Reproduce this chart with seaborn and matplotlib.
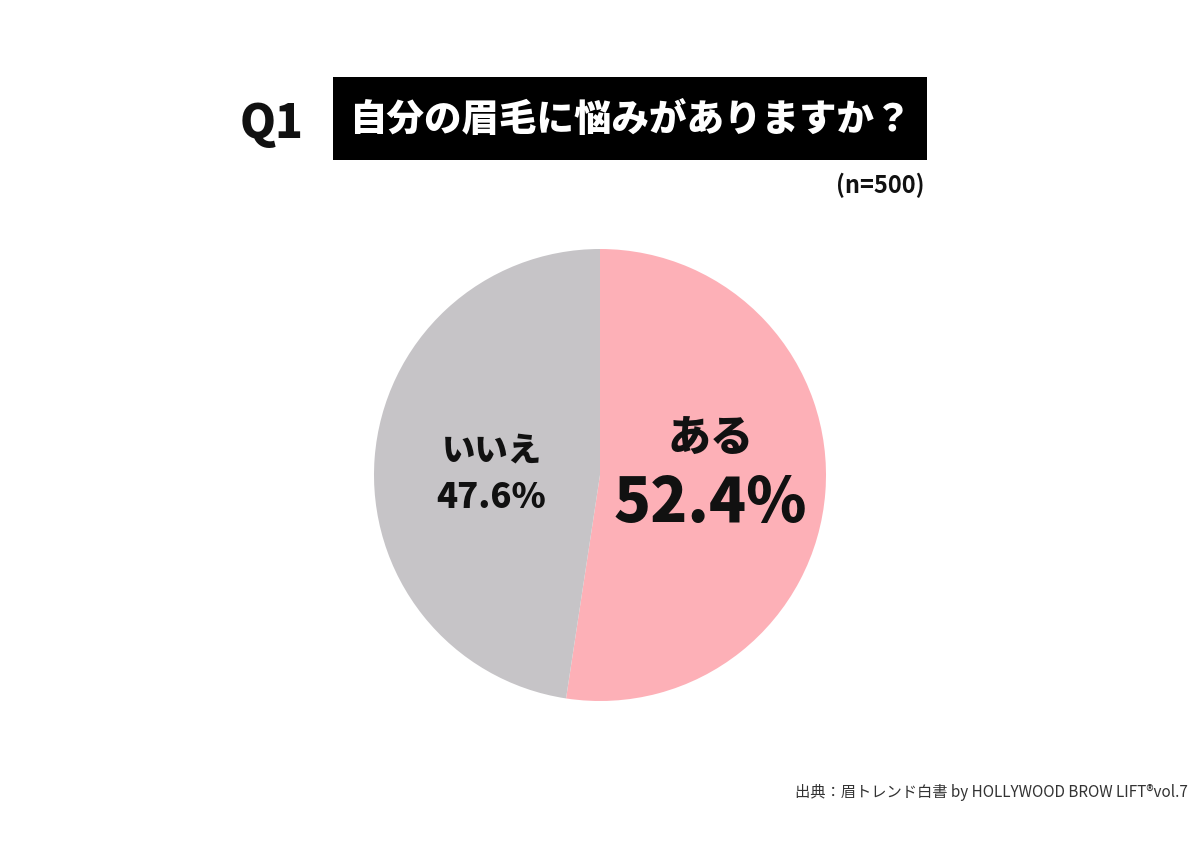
import matplotlib
matplotlib.use("Agg")
import matplotlib.pyplot as plt
import matplotlib.patches as patches
import seaborn as sns

# Data
labels = ["ある", "いいえ"]
values = [52.4, 47.6]
colors = ["#FDB0B7", "#C6C4C7"]
question = "自分の眉毛に悩みがありますか？"
sample = "(n=500)"
source = "出典：眉トレンド白書 by HOLLYWOOD BROW LIFT®vol.7"

sns.set_theme(style="white")
plt.rcParams['font.family'] = ['Noto Sans CJK JP', 'DejaVu Sans']

fig = plt.figure(figsize=(12, 8.48), dpi=100)
fig.patch.set_facecolor("white")

# Pie axes: center (600, 475) px, radius ~226 px
W, H = 1200, 848
cx, cy, r = 600, 475, 226
ax = fig.add_axes([(cx - r) / W, 1 - (cy + r) / H, 2 * r / W, 2 * r / H])
ax.pie(values, colors=colors, startangle=90, counterclock=False,
       radius=1, wedgeprops=dict(linewidth=0))
ax.set_xlim(-1, 1)
ax.set_ylim(-1, 1)
ax.set_aspect("equal")
ax.axis("off")

# Slice labels
ax.text(0.49, 0.16, labels[0], ha="center", va="center", fontsize=31,
        fontweight="black", color="#111111")
ax.text(0.49, -0.13, f"{values[0]}%", ha="center", va="center", fontsize=44,
        fontweight="black", color="#111111")
ax.text(-0.48, 0.11, labels[1], ha="center", va="center", fontsize=24,
        fontweight="black", color="#111111")
ax.text(-0.48, -0.10, f"{values[1]}%", ha="center", va="center", fontsize=25,
        fontweight="black", color="#111111")

# Title box
box = patches.Rectangle((333 / W, 1 - 160 / H), (927 - 333) / W, (160 - 77) / H,
                        transform=fig.transFigure, facecolor="black", edgecolor="none")
fig.add_artist(box)
fig.text(630 / W, 1 - 120 / H, question, ha="center", va="center",
         fontsize=27, fontweight="black", color="white")
fig.text(272 / W, 1 - 124 / H, "Q1", ha="center", va="center",
         fontsize=33, fontweight="black", color="#111111")
fig.text(925 / W, 1 - 185 / H, sample, ha="right", va="center",
         fontsize=17, fontweight="bold", color="#111111")

# Source
fig.text(1188 / W, 1 - 792 / H, source, ha="right", va="center",
         fontsize=11, color="#333333")

fig.savefig("out.png", dpi=100, facecolor="white")
